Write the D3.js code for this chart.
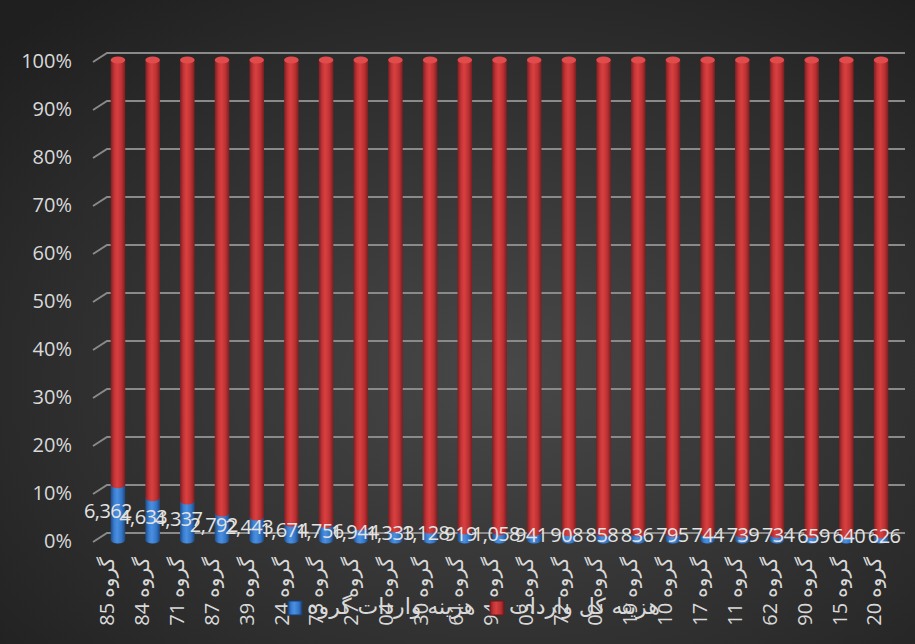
<!DOCTYPE html>
<html>
<head>
<meta charset="utf-8">
<script src="https://cdn.jsdelivr.net/npm/d3@7"></script>
<style>
  html, body { margin: 0; padding: 0; background: #2b2b2b; }
  svg { display: block; font-family: "Open Sans", "DejaVu Sans", sans-serif; }
</style>
</head>
<body>
<script>
// Categories, left to right
const groups = [
    "گروه 85", "گروه 84", "گروه 71", "گروه 87", "گروه 39", "گروه 24",
    "گروه 73", "گروه 27", "گروه 04", "گروه 30", "گروه 61", "گروه 94",
    "گروه 03", "گروه 72", "گروه 02", "گروه 19", "گروه 10", "گروه 17",
    "گروه 11", "گروه 62", "گروه 90", "گروه 15", "گروه 20"
];

// Blue series: group import cost (the data labels)
const groupCost = [
    6362, 4633, 4337, 2792, 2443, 1674, 1756, 1944, 1333, 1128, 919, 1058,
    941, 908, 858, 836, 795, 744, 739, 734, 659, 640, 626
];

// Red series: total import cost (estimated from the bar split)
const totalCost = [
    48960, 48015, 49206, 47065, 48453, 46155, 53119, 70056, 56623, 52587, 47450, 61177,
    57872, 59625, 58314, 58879, 58094, 56486, 58381, 60433, 56646, 57542, 58993
];

const seriesNames = ["هزینه واردات گروه", "هزینه کل واردات"];
const yTicks = [0, 0.1, 0.2, 0.3, 0.4, 0.5, 0.6, 0.7, 0.8, 0.9, 1];

const width = 915, height = 644;
const depth = 7;           // how far the back wall sits above the bars
const textColor = "#d9d9d9";

const rows = groups.map((g, i) => ({ group: g, blue: groupCost[i], red: totalCost[i] }));
const stack = d3.stack().keys(["blue", "red"]).offset(d3.stackOffsetExpand);
const layers = stack(rows);

const x = d3.scaleBand()
    .domain(groups)
    .range([100.6, 898.4])
    .paddingInner(0.58)
    .paddingOuter(0.29);

const y = d3.scaleLinear().domain([0, 1]).range([540, 60]);

const svg = d3.select("body").append("svg")
    .attr("width", width)
    .attr("height", height);

const defs = svg.append("defs");

let bg = defs.append("radialGradient")
    .attr("id", "bg").attr("cx", "55%").attr("cy", "58%").attr("r", "75%");
bg.append("stop").attr("offset", "0%").attr("stop-color", "#484848");
bg.append("stop").attr("offset", "100%").attr("stop-color", "#1f1f1f");

function cylGradient(id, stops) {
    let g = defs.append("linearGradient").attr("id", id)
        .attr("x1", "0%").attr("x2", "100%").attr("y1", "0%").attr("y2", "0%");
    stops.forEach(s => g.append("stop").attr("offset", s[0]).attr("stop-color", s[1]));
}
cylGradient("redCyl", [["0%", "#7c1f21"], ["25%", "#c43538"], ["45%", "#d9403f"], ["75%", "#bb3133"], ["100%", "#7a1e20"]]);
cylGradient("blueCyl", [["0%", "#1e4c86"], ["25%", "#3a7fd2"], ["45%", "#4a8fe0"], ["75%", "#3576c6"], ["100%", "#1d4880"]]);

svg.append("rect").attr("width", width).attr("height", height).attr("fill", "url(#bg)");

// Gridlines with the slanted wall edge on the left
const grid = svg.append("g").attr("class", "grid");
yTicks.forEach(t => {
    let gy = y(t) - depth;
    grid.append("path")
        .attr("d", "M93," + (gy + 9) + "L107," + gy + "L905," + gy)
        .attr("fill", "none")
        .attr("stroke", "#8a8a8a")
        .attr("stroke-width", 2);
    grid.append("text")
        .attr("x", 72)
        .attr("y", gy + 10)
        .attr("text-anchor", "end")
        .attr("dominant-baseline", "middle")
        .attr("fill", textColor)
        .attr("font-size", 20)
        .text(d3.format(".0%")(t));
});

// Cylinders
const bw = x.bandwidth();
const ry = 3.5;
const bars = svg.append("g").attr("class", "bars");

rows.forEach((d, i) => {
    let cx = x(d.group) + bw / 2;
    let b = layers[0][i], r = layers[1][i];
    let g = bars.append("g");

    // blue part
    g.append("rect")
        .attr("x", cx - bw / 2).attr("y", y(b[1]))
        .attr("width", bw).attr("height", y(b[0]) - y(b[1]))
        .attr("fill", "url(#blueCyl)");
    g.append("ellipse")
        .attr("cx", cx).attr("cy", y(b[0]))
        .attr("rx", bw / 2).attr("ry", ry)
        .attr("fill", "url(#blueCyl)");

    // red part sits on top of the blue one
    g.append("rect")
        .attr("x", cx - bw / 2).attr("y", y(r[1]))
        .attr("width", bw).attr("height", y(r[0]) - y(r[1]))
        .attr("fill", "url(#redCyl)");
    g.append("ellipse")
        .attr("cx", cx).attr("cy", y(r[0]))
        .attr("rx", bw / 2).attr("ry", ry)
        .attr("fill", "url(#redCyl)");
    g.append("ellipse")
        .attr("cx", cx).attr("cy", y(r[1]))
        .attr("rx", bw / 2).attr("ry", ry)
        .attr("fill", "#e24b4b");
});

// Data labels, centred on the blue segment (perspective pulls the left ones leftwards)
const n = groups.length;
svg.append("g").attr("class", "labels")
    .selectAll("text")
    .data(rows)
    .join("text")
    .attr("x", (d, i) => x(d.group) + bw / 2 - 10 + 13 * i / (n - 1))
    .attr("y", (d, i) => (y(layers[0][i][0]) + y(layers[0][i][1])) / 2)
    .attr("text-anchor", "middle")
    .attr("dominant-baseline", "middle")
    .attr("fill", "#e3e3e3")
    .attr("font-size", 20)
    .attr("letter-spacing", -0.6)
    .text(d => d3.format(",")(d.blue));

// Category labels, rotated
svg.append("g").attr("class", "x axis")
    .selectAll("text")
    .data(groups)
    .join("text")
    .attr("transform", (d, i) => {
        let lx = x(d) + bw / 2 - 9 + 4 * i / (n - 1);
        return "translate(" + lx + ",557) rotate(-90)";
    })
    .attr("text-anchor", "end")
    .attr("dominant-baseline", "middle")
    .attr("fill", textColor)
    .attr("font-size", 20)
    .text(d => d);

// Legend
const legend = svg.append("g").attr("class", "legend");
const legendX = [288, 490];
const legendFill = ["url(#blueCyl)", "url(#redCyl)"];
seriesNames.forEach((name, i) => {
    legend.append("rect")
        .attr("x", legendX[i]).attr("y", 601)
        .attr("width", 14).attr("height", 14)
        .attr("fill", legendFill[i])
        .attr("stroke", i == 0 ? "#1b3f70" : "#6a1a1c")
        .attr("stroke-width", 1);
    legend.append("text")
        .attr("x", legendX[i] + 19)
        .attr("y", 608)
        .attr("dominant-baseline", "middle")
        .attr("fill", textColor)
        .attr("font-size", 22)
        .text(name);
});
</script>
</body>
</html>
